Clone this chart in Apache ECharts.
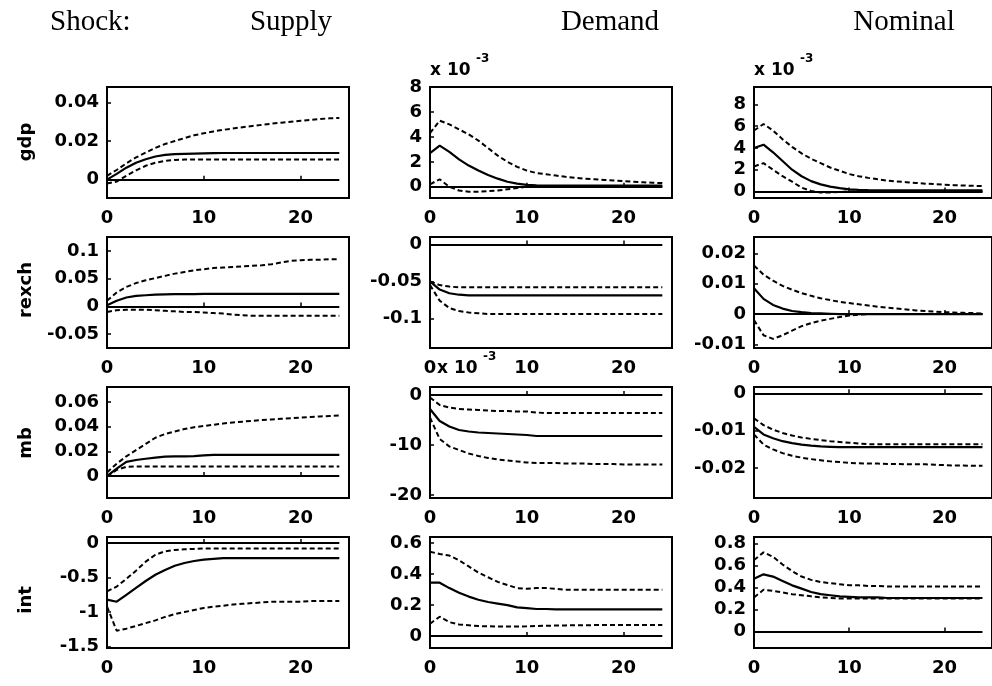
<!DOCTYPE html>
<html>
<head>
<meta charset="utf-8">
<script src="https://cdn.jsdelivr.net/npm/echarts@6/dist/echarts.min.js"></script>
<style>
html,body{margin:0;padding:0;background:#fff;}
#chart{width:992px;height:686px;}
</style>
</head>
<body>
<div id="chart"></div>
<script>
// horizon (quarters after the shock)
var periods = [0,1,2,3,4,5,6,7,8,9,10,11,12,13,14,15,16,17,18,19,20,21,22,23,24];
var shocks = ['Supply', 'Demand', 'Nominal'];
var variables = ['gdp', 'rexch', 'mb', 'int'];

// gdp
var gdpSupplyHi  = [0.002,0.005,0.0085,0.0115,0.014,0.0165,0.0185,0.02,0.0215,0.023,0.024,0.025,0.0258,0.0265,0.0272,0.0278,0.0284,0.029,0.0295,0.03,0.0305,0.031,0.0314,0.0318,0.032];
var gdpSupplyMid = [0,0.003,0.0062,0.0088,0.0106,0.012,0.0128,0.0132,0.0134,0.0135,0.0136,0.0137,0.0138,0.0138,0.0138,0.0138,0.0138,0.0138,0.0138,0.0138,0.0138,0.0138,0.0138,0.0138,0.0138];
var gdpSupplyLo  = [-0.002,-0.001,0.002,0.0048,0.0072,0.0088,0.0097,0.0102,0.0104,0.0105,0.0105,0.0105,0.0105,0.0105,0.0105,0.0105,0.0105,0.0105,0.0105,0.0105,0.0105,0.0105,0.0105,0.0105,0.0105];
// x 10^-3
var gdpDemandHi  = [4.3,5.3,5.0,4.6,4.2,3.7,3.1,2.5,2.0,1.6,1.3,1.1,1.0,0.9,0.8,0.72,0.65,0.6,0.55,0.5,0.45,0.4,0.36,0.32,0.3];
var gdpDemandMid = [2.7,3.3,2.8,2.2,1.7,1.3,0.95,0.65,0.4,0.25,0.15,0.12,0.1,0.1,0.1,0.1,0.1,0.1,0.1,0.1,0.1,0.1,0.1,0.1,0.1];
var gdpDemandLo  = [0.2,0.6,0.0,-0.3,-0.4,-0.4,-0.35,-0.3,-0.2,-0.1,0,0.05,0.05,0.05,0.05,0.05,0.05,0.05,0.05,0.05,0.05,0.05,0.05,0.05,0.05];
// x 10^-3
var gdpNominalHi  = [5.6,6.2,5.6,4.8,4.1,3.5,3.0,2.6,2.2,1.9,1.6,1.4,1.25,1.12,1.0,0.92,0.85,0.78,0.72,0.67,0.62,0.58,0.55,0.52,0.5];
var gdpNominalMid = [4.0,4.3,3.6,2.8,2.0,1.4,0.95,0.65,0.45,0.3,0.2,0.15,0.12,0.1,0.1,0.1,0.1,0.1,0.1,0.1,0.1,0.1,0.1,0.1,0.1];
var gdpNominalLo  = [2.3,2.6,2.0,1.4,0.9,0.35,0.05,-0.1,-0.1,-0.05,0,0,0,0,0,0,0,0,0,0,0,0,0,0,0];

// rexch
var rexchSupplyHi  = [0.01,0.025,0.035,0.042,0.047,0.051,0.055,0.059,0.062,0.065,0.067,0.069,0.07,0.071,0.072,0.073,0.074,0.076,0.079,0.082,0.083,0.084,0.084,0.085,0.085];
var rexchSupplyMid = [0.002,0.01,0.016,0.019,0.02,0.021,0.0215,0.022,0.022,0.0222,0.0224,0.0225,0.0225,0.0225,0.0225,0.0225,0.0225,0.0225,0.0225,0.0225,0.0225,0.0225,0.0225,0.0225,0.0225];
var rexchSupplyLo  = [-0.01,-0.007,-0.006,-0.006,-0.006,-0.007,-0.008,-0.009,-0.01,-0.01,-0.011,-0.012,-0.013,-0.015,-0.016,-0.017,-0.017,-0.017,-0.017,-0.017,-0.017,-0.017,-0.017,-0.017,-0.017];
var rexchDemandHi  = [-0.05,-0.055,-0.057,-0.058,-0.058,-0.058,-0.058,-0.058,-0.058,-0.058,-0.058,-0.058,-0.058,-0.058,-0.058,-0.058,-0.058,-0.058,-0.058,-0.058,-0.058,-0.058,-0.058,-0.058,-0.058];
var rexchDemandMid = [-0.05,-0.061,-0.066,-0.068,-0.069,-0.069,-0.069,-0.069,-0.069,-0.069,-0.069,-0.069,-0.069,-0.069,-0.069,-0.069,-0.069,-0.069,-0.069,-0.069,-0.069,-0.069,-0.069,-0.069,-0.069];
var rexchDemandLo  = [-0.055,-0.076,-0.086,-0.09,-0.092,-0.093,-0.094,-0.094,-0.094,-0.094,-0.094,-0.094,-0.094,-0.094,-0.094,-0.094,-0.094,-0.094,-0.094,-0.094,-0.094,-0.094,-0.094,-0.094,-0.094];
var rexchNominalHi  = [0.016,0.013,0.011,0.0093,0.008,0.0069,0.006,0.0052,0.0046,0.004,0.0036,0.0032,0.0028,0.0024,0.0021,0.0018,0.0015,0.0012,0.001,0.0008,0.0006,0.0005,0.0004,0.0003,0.0002];
var rexchNominalMid = [0.0085,0.005,0.003,0.0018,0.001,0.0006,0.0003,0.0002,0.0001,0,0,0,0,0,0,0,0,0,0,0,0,0,0,0,0];
var rexchNominalLo  = [-0.002,-0.007,-0.0082,-0.007,-0.0055,-0.004,-0.003,-0.0022,-0.0016,-0.001,-0.0005,-0.0002,0,0,0,0,0,0,0,0,0,0,0,0,0];

// mb
var mbSupplyHi  = [0.003,0.01,0.016,0.021,0.026,0.031,0.034,0.036,0.038,0.0395,0.0405,0.0415,0.0425,0.0433,0.044,0.0447,0.0453,0.0458,0.0463,0.0468,0.0473,0.0478,0.0482,0.0486,0.049];
var mbSupplyMid = [0,0.006,0.0115,0.013,0.014,0.015,0.0158,0.016,0.016,0.0162,0.0168,0.0172,0.0172,0.0172,0.0172,0.0172,0.0172,0.0172,0.0172,0.0172,0.0172,0.0172,0.0172,0.0172,0.0172];
var mbSupplyLo  = [0,0.005,0.0075,0.0078,0.0078,0.0078,0.0078,0.0078,0.0078,0.0078,0.0078,0.0078,0.0078,0.0078,0.0078,0.0078,0.0078,0.0078,0.0078,0.0078,0.0078,0.0078,0.0078,0.0078,0.0078];
// x 10^-3
var mbDemandHi  = [-0.5,-2.0,-2.5,-2.8,-2.9,-3.0,-3.1,-3.2,-3.2,-3.3,-3.3,-3.5,-3.6,-3.6,-3.6,-3.6,-3.6,-3.6,-3.6,-3.6,-3.6,-3.6,-3.6,-3.6,-3.6];
var mbDemandMid = [-2.8,-5.2,-6.3,-7.0,-7.3,-7.5,-7.6,-7.7,-7.8,-7.9,-8.0,-8.2,-8.2,-8.2,-8.2,-8.2,-8.2,-8.2,-8.2,-8.2,-8.2,-8.2,-8.2,-8.2,-8.2];
var mbDemandLo  = [-4.5,-8.8,-10.3,-11.0,-11.7,-12.2,-12.6,-12.9,-13.1,-13.3,-13.5,-13.6,-13.6,-13.6,-13.7,-13.7,-13.7,-13.8,-13.8,-13.8,-13.9,-13.9,-13.9,-13.9,-13.9];
var mbNominalHi  = [-0.0067,-0.0085,-0.0097,-0.0106,-0.0113,-0.0118,-0.0122,-0.0125,-0.0128,-0.013,-0.0132,-0.0134,-0.0136,-0.0136,-0.0136,-0.0136,-0.0136,-0.0136,-0.0136,-0.0136,-0.0136,-0.0136,-0.0136,-0.0136,-0.0136];
var mbNominalMid = [-0.009,-0.011,-0.012,-0.0128,-0.0133,-0.0137,-0.014,-0.0142,-0.0143,-0.0144,-0.0144,-0.0144,-0.0144,-0.0144,-0.0144,-0.0144,-0.0144,-0.0144,-0.0144,-0.0144,-0.0144,-0.0144,-0.0144,-0.0144,-0.0144];
var mbNominalLo  = [-0.011,-0.0137,-0.015,-0.016,-0.0167,-0.0172,-0.0176,-0.0179,-0.0182,-0.0184,-0.0186,-0.0187,-0.0188,-0.0188,-0.0189,-0.0189,-0.019,-0.019,-0.019,-0.0191,-0.0192,-0.0193,-0.0193,-0.0194,-0.0194];

// int
var intSupplyHi  = [-0.7,-0.63,-0.52,-0.4,-0.27,-0.17,-0.12,-0.1,-0.09,-0.085,-0.08,-0.08,-0.08,-0.08,-0.08,-0.08,-0.08,-0.08,-0.08,-0.08,-0.08,-0.08,-0.08,-0.08,-0.08];
var intSupplyMid = [-0.82,-0.85,-0.75,-0.65,-0.55,-0.46,-0.39,-0.33,-0.29,-0.26,-0.24,-0.23,-0.22,-0.22,-0.22,-0.22,-0.22,-0.22,-0.22,-0.22,-0.22,-0.22,-0.22,-0.22,-0.22];
var intSupplyLo  = [-0.92,-1.27,-1.24,-1.2,-1.16,-1.12,-1.07,-1.03,-1.0,-0.97,-0.94,-0.92,-0.91,-0.89,-0.88,-0.87,-0.86,-0.85,-0.85,-0.85,-0.85,-0.84,-0.84,-0.84,-0.84];
var intDemandHi  = [0.545,0.53,0.52,0.49,0.45,0.41,0.38,0.35,0.33,0.31,0.305,0.31,0.31,0.305,0.3,0.3,0.3,0.3,0.3,0.3,0.3,0.3,0.3,0.3,0.3];
var intDemandMid = [0.345,0.345,0.31,0.28,0.255,0.235,0.22,0.21,0.2,0.185,0.18,0.175,0.175,0.172,0.172,0.172,0.172,0.172,0.172,0.172,0.172,0.172,0.172,0.172,0.172];
var intDemandLo  = [0.08,0.125,0.09,0.075,0.07,0.065,0.063,0.062,0.062,0.062,0.063,0.065,0.067,0.068,0.069,0.07,0.07,0.071,0.071,0.071,0.071,0.071,0.071,0.071,0.071];
var intNominalHi  = [0.65,0.72,0.68,0.61,0.55,0.5,0.47,0.45,0.44,0.43,0.42,0.42,0.415,0.415,0.41,0.41,0.41,0.41,0.41,0.41,0.41,0.41,0.41,0.41,0.41];
var intNominalMid = [0.48,0.52,0.5,0.46,0.42,0.39,0.36,0.34,0.33,0.32,0.315,0.31,0.31,0.31,0.305,0.305,0.305,0.305,0.305,0.305,0.305,0.305,0.305,0.305,0.305];
var intNominalLo  = [0.31,0.38,0.37,0.355,0.34,0.33,0.32,0.31,0.305,0.3,0.3,0.3,0.3,0.3,0.3,0.3,0.3,0.3,0.3,0.3,0.3,0.3,0.3,0.3,0.3];

// y-axis ranges and tick labels, one per panel (row by row)
var yRanges = [
    [-0.0095, 0.048], [-0.9, 8], [-0.6, 9.6],
    [-0.075, 0.125], [-0.14, 0.01], [-0.0112, 0.0254],
    [-0.0177, 0.072], [-20.6, 1.6], [-0.028, 0.0017],
    [-1.52, 0.087], [-0.077, 0.64], [-0.15, 0.86]
];
var yTicks = [
    [0, 0.02, 0.04], [0, 2, 4, 6, 8], [0, 2, 4, 6, 8],
    [-0.05, 0, 0.05, 0.1], [-0.1, -0.05, 0], [-0.01, 0, 0.01, 0.02],
    [0, 0.02, 0.04, 0.06], [-20, -10, 0], [-0.02, -0.01, 0],
    [-1.5, -1, -0.5, 0], [0, 0.2, 0.4, 0.6], [0, 0.2, 0.4, 0.6, 0.8]
];
var xTicks = [0, 10, 20];

var panels = [
    [gdpSupplyHi, gdpSupplyMid, gdpSupplyLo], [gdpDemandHi, gdpDemandMid, gdpDemandLo], [gdpNominalHi, gdpNominalMid, gdpNominalLo],
    [rexchSupplyHi, rexchSupplyMid, rexchSupplyLo], [rexchDemandHi, rexchDemandMid, rexchDemandLo], [rexchNominalHi, rexchNominalMid, rexchNominalLo],
    [mbSupplyHi, mbSupplyMid, mbSupplyLo], [mbDemandHi, mbDemandMid, mbDemandLo], [mbNominalHi, mbNominalMid, mbNominalLo],
    [intSupplyHi, intSupplyMid, intSupplyLo], [intDemandHi, intDemandMid, intDemandLo], [intNominalHi, intNominalMid, intNominalLo]
];

var colLeft = [107, 430, 754];
var rowTop = [87, 237, 387, 537];
var boxW = 242, boxH = 111;
var tickFont = {fontFamily: 'DejaVu Sans', fontWeight: 'bold', fontSize: 18, color: '#000'};

function pairs(vals) {
    return periods.map(function (t, i) { return [t, vals[i]]; });
}
function fmt(v) { return String(parseFloat(Number(v).toPrecision(6))); }

var grids = [], xAxes = [], yAxes = [], series = [];
panels.forEach(function (p, k) {
    var r = Math.floor(k / 3), c = k % 3;
    grids.push({left: colLeft[c], top: rowTop[r], width: boxW, height: boxH,
        show: true, borderColor: '#000', borderWidth: 2, backgroundColor: '#fff'});
    xAxes.push({type: 'value', gridIndex: k, min: 0, max: 25, interval: 10,
        axisLine: {show: false}, splitLine: {show: false},
        axisTick: {inside: true, length: 4, lineStyle: {color: '#000', width: 1.5}},
        axisLabel: Object.assign({margin: 11, customValues: xTicks, formatter: fmt}, tickFont)});
    yAxes.push({type: 'value', gridIndex: k, min: yRanges[k][0], max: yRanges[k][1],
        axisLine: {show: false}, splitLine: {show: false},
        axisTick: {inside: true, length: 4, customValues: yTicks[k], lineStyle: {color: '#000', width: 1.5}},
        axisLabel: Object.assign({margin: 8, customValues: yTicks[k], formatter: fmt}, tickFont)});
    var base = {type: 'line', xAxisIndex: k, yAxisIndex: k, symbol: 'none', silent: true, animation: false};
    series.push(Object.assign({}, base, {data: pairs(p[0]), lineStyle: {color: '#000', width: 2, type: [5, 3]}}));
    series.push(Object.assign({}, base, {data: pairs(p[1]), lineStyle: {color: '#000', width: 2.2},
        markLine: {silent: true, symbol: 'none', label: {show: false}, animation: false,
            lineStyle: {color: '#000', width: 2.2, type: 'solid'},
            data: [[{coord: [periods[0], 0]}, {coord: [periods[periods.length - 1], 0]}]]}}));
    series.push(Object.assign({}, base, {data: pairs(p[2]), lineStyle: {color: '#000', width: 2, type: [5, 3]}}));
});

var graphics = [];
var serif = 'Liberation Serif, Times New Roman, serif';
graphics.push({type: 'text', x: 50, y: 22, style: {text: 'Shock:', font: '29px ' + serif, fill: '#000', align: 'left', verticalAlign: 'middle'}});
var headX = [291, 610, 904];
shocks.forEach(function (s, i) {
    graphics.push({type: 'text', x: headX[i], y: 22, style: {text: s, font: '29px ' + serif, fill: '#000', align: 'center', verticalAlign: 'middle'}});
});
var nameY = [142, 290, 443, 600];
variables.forEach(function (v, i) {
    graphics.push({type: 'text', x: 26, y: nameY[i], rotation: Math.PI / 2,
        style: {text: v, font: 'bold 18px DejaVu Sans', fill: '#000', align: 'center', verticalAlign: 'middle'}});
});
// exponent notes for panels drawn in units of 10^-3
[[430, 71], [754, 71], [437, 369]].forEach(function (pos) {
    graphics.push({type: 'text', x: pos[0], y: pos[1], style: {text: 'x 10', font: 'bold 17px DejaVu Sans', fill: '#000', verticalAlign: 'middle'}});
    graphics.push({type: 'text', x: pos[0] + 46, y: pos[1] - 12, style: {text: '-3', font: 'bold 12px DejaVu Sans', fill: '#000', verticalAlign: 'middle'}});
});

var myChart = echarts.init(document.getElementById('chart'), null, {renderer: 'canvas'});
myChart.setOption({
    animation: false,
    backgroundColor: '#fff',
    grid: grids,
    xAxis: xAxes,
    yAxis: yAxes,
    series: series,
    graphic: graphics
});
</script>
</body>
</html>
